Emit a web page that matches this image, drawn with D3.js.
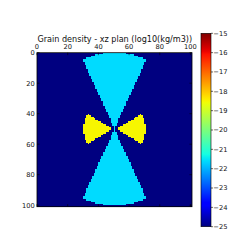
<!DOCTYPE html>
<html><head><meta charset="utf-8">
<script src="https://cdn.jsdelivr.net/npm/d3@7/dist/d3.min.js"></script>
<style>body{margin:0;background:#fff}svg{display:block}text{font-family:"DejaVu Sans",sans-serif;fill:#111}</style>
</head><body>
<svg id="c" width="249" height="249"></svg>
<script>
// ---- data ----
const title = "Grain density - xz plan (log10(kg/m3))";
const nCells = 101;
const backgroundValue = -25;
const coneValue = -21.6;
const lobeValue = -18.5;
// cyan cone spans [firstColumn, lastColumn], rows 0..49
const coneTopSpans = [[43,57],[38,62],[35,65],[32,68],[30,70],[30,70],[31,69],[31,69],[32,68],[32,68],
 [32,68],[33,67],[33,67],[34,66],[34,66],[35,65],[35,65],[36,64],[36,64],[37,63],
 [37,63],[38,62],[38,62],[38,62],[39,61],[39,61],[40,60],[40,60],[41,59],[41,59],
 [42,58],[42,58],[43,57],[43,57],[43,57],[44,56],[44,56],[45,55],[45,55],[46,54],
 [46,54],[47,53],[47,53],[48,52],[48,52],[48,52],[49,51],[49,51],[50,50],[50,50]];
// rows 50..99
const coneBottomSpans = [[50,50],[50,50],[49,51],[49,51],[48,52],[48,52],[48,52],[47,53],[47,53],[46,54],
 [46,54],[45,55],[45,55],[44,56],[44,56],[43,57],[43,57],[43,57],[42,58],[42,58],
 [41,59],[41,59],[40,60],[40,60],[39,61],[39,61],[38,62],[38,62],[38,62],[37,63],
 [37,63],[36,64],[36,64],[35,65],[35,65],[34,66],[34,66],[33,67],[33,67],[32,68],
 [32,68],[32,68],[31,69],[31,69],[30,70],[30,70],[32,68],[35,65],[38,62],[43,57]];
// yellow lobes, rows 40..59
const lobeFirstRow = 40;
const lobeLeftSpans = [[33,33],[32,34],[32,36],[31,37],[31,39],[31,41],[31,42],[30,44],[30,46],[30,47],
 [30,47],[30,46],[30,44],[31,42],[31,41],[31,39],[31,37],[32,36],[32,34],[33,33]];
const lobeRightSpans = [[67,67],[66,68],[64,68],[63,69],[61,69],[59,69],[58,69],[56,70],[54,70],[53,70],
 [53,70],[54,70],[56,70],[58,69],[59,69],[61,69],[63,69],[64,68],[66,68],[67,67]];
const axisTicks = [0,20,40,60,80,100];
const colorbarTicks = [-15,-16,-17,-18,-19,-20,-21,-22,-23,-24,-25];

// ---- build grid ----
const grid = d3.range(nCells).map(() => new Array(nCells).fill(backgroundValue));
coneTopSpans.concat(coneBottomSpans).forEach(([a,b], r) => { for (let j=a;j<=b;j++) grid[r][j]=coneValue; });
lobeLeftSpans.forEach(([a,b], i) => { for (let j=a;j<=b;j++) grid[lobeFirstRow+i][j]=lobeValue; });
lobeRightSpans.forEach(([a,b], i) => { for (let j=a;j<=b;j++) grid[lobeFirstRow+i][j]=lobeValue; });
const runs = [];
grid.forEach((row, r) => {
  let s = 0;
  for (let j=1;j<=nCells;j++) {
    if (j===nCells || row[j]!==row[s]) { runs.push({r, x0:s, x1:j, v:row[s]}); s=j; }
  }
});

// ---- jet colormap ----
const jr = d3.scaleLinear().domain([0,0.35,0.66,0.89,1]).range([0,0,1,1,0.5]).clamp(true);
const jg = d3.scaleLinear().domain([0,0.125,0.375,0.64,0.91,1]).range([0,0,1,1,0,0]).clamp(true);
const jb = d3.scaleLinear().domain([0,0.11,0.34,0.65,1]).range([0.5,1,1,0,0]).clamp(true);
const jet = t => d3.rgb(jr(t)*255, jg(t)*255, jb(t)*255).formatHex();
const norm = d3.scaleLinear().domain([-25,-15]).range([0,1]).clamp(true);
const color = v => jet(norm(v));

// ---- layout ----
const svg = d3.select("#c");
const x = d3.scaleLinear().domain([0,nCells]).range([37,192]);
const y = d3.scaleLinear().domain([0,nCells]).range([52.7,206.7]);

svg.append("g").selectAll("rect").data(runs).join("rect")
  .attr("x", d=>x(d.x0)).attr("width", d=>x(d.x1)-x(d.x0))
  .attr("y", d=>y(d.r)).attr("height", d=>y(d.r+1)-y(d.r)+0.3)
  .attr("fill", d=>color(d.v)).attr("shape-rendering","crispEdges");

svg.append("rect").attr("x",x(0)).attr("y",y(0)).attr("width",x(nCells)-x(0)).attr("height",y(nCells)-y(0))
  .attr("fill","none").attr("stroke","#000").attr("stroke-width",0.8);

const fs = 6.7;
const tl = 2.5;
const axG = svg.append("g");
axisTicks.forEach(t => {
  axG.append("line").attr("x1",x(t)).attr("x2",x(t)).attr("y1",y(0)).attr("y2",y(0)+tl).attr("stroke","#000").attr("stroke-width",0.6);
  axG.append("line").attr("x1",x(t)).attr("x2",x(t)).attr("y1",y(nCells)).attr("y2",y(nCells)-tl).attr("stroke","#000").attr("stroke-width",0.6);
  axG.append("text").attr("x",x(t)).attr("y",y(0)-4.2).attr("text-anchor","middle").attr("font-size",fs).text(t);
  axG.append("line").attr("y1",y(t)).attr("y2",y(t)).attr("x1",x(0)).attr("x2",x(0)+tl).attr("stroke","#000").attr("stroke-width",0.6);
  axG.append("line").attr("y1",y(t)).attr("y2",y(t)).attr("x1",x(nCells)).attr("x2",x(nCells)-tl).attr("stroke","#000").attr("stroke-width",0.6);
  axG.append("text").attr("x",x(0)-2.3).attr("y",y(t)).attr("dy","0.35em").attr("text-anchor","end").attr("font-size",fs).text(t);
});

svg.append("text").attr("x",114.8).attr("y",42.3).attr("text-anchor","middle").attr("font-size",8.1).text(title);

// colorbar
const cb = d3.scaleLinear().domain([-25,-15]).range([226.7,33.3]);
const defs = svg.append("defs");
const grad = defs.append("linearGradient").attr("id","jetg").attr("x1",0).attr("x2",0).attr("y1",1).attr("y2",0);
d3.range(0,1.0001,1/64).forEach(t => grad.append("stop").attr("offset",t).attr("stop-color",jet(t)));
svg.append("rect").attr("x",201).attr("y",cb(-15)).attr("width",10).attr("height",cb(-25)-cb(-15))
  .attr("fill","url(#jetg)").attr("stroke","#000").attr("stroke-width",0.6);
const cbg = svg.append("g");
colorbarTicks.forEach(t => {
  cbg.append("line").attr("x1",211).attr("x2",213).attr("y1",cb(t)).attr("y2",cb(t)).attr("stroke","#000").attr("stroke-width",0.6);
  cbg.append("text").attr("x",213.3).attr("y",cb(t)).attr("dy","0.35em").attr("font-size",fs).text(String(t).replace("-","\u2212"));
});
</script>
</body></html>
